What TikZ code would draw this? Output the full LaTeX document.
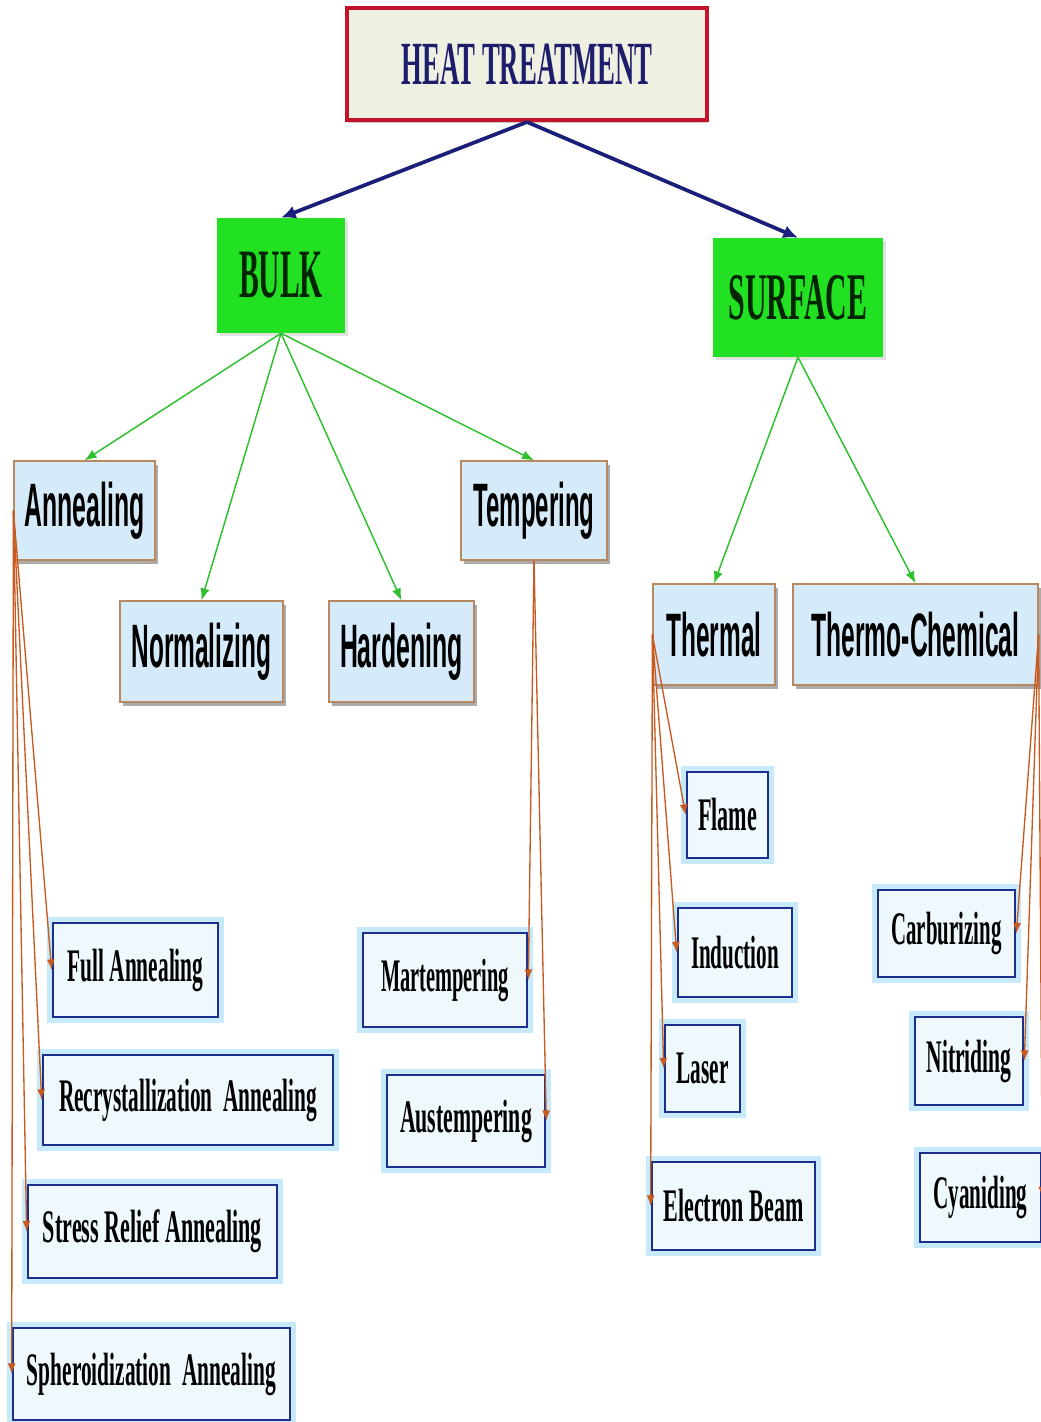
\documentclass[tikz,border=0pt]{standalone}
\usepackage{fontspec}
\usepackage{graphicx}
\usetikzlibrary{arrows.meta,shadows}
\newfontfamily\labelsans{Liberation Sans}
\newfontfamily\labelserif{Liberation Serif}
\newlength\unitpx
\setlength\unitpx{0.75pt}
% squeeze a label to a given width (in px units), keeping its height
\newcommand\squeeze[2]{\resizebox{#1\unitpx}{\height}{#2}}
\definecolor{navyline}{HTML}{1A1F7A}
\definecolor{headtext}{HTML}{1D1D6B}
\definecolor{headred}{HTML}{C4142A}
\definecolor{headfill}{HTML}{EEF0E2}
\definecolor{bulkgreen}{HTML}{22E022}
\definecolor{greenline}{HTML}{2EC02E}
\definecolor{orangeline}{HTML}{C85A20}
\definecolor{catfill}{HTML}{D5EBF9}
\definecolor{catborder}{HTML}{B88860}
\definecolor{leaffill}{HTML}{EEF8FD}
\definecolor{leafborder}{HTML}{1C2F8C}
\definecolor{leafglow}{HTML}{C6EAFA}
\begin{document}
\begin{tikzpicture}[x=0.75pt,y=-0.75pt,
  area/.style n args={4}{minimum width={(#3-#1)*0.75pt}, minimum height={(#4-#2)*0.75pt},
    at={({(#1+#3)/2},{(#2+#4)/2})}, anchor=center, inner sep=0pt},
  headbox/.style={draw=headred, line width=3pt, fill=headfill,
    drop shadow={shadow xshift=1pt, shadow yshift=-2pt, fill=black!40, opacity=0.5}},
  greenbox/.style={fill=bulkgreen,
    drop shadow={shadow xshift=2pt, shadow yshift=-2pt, fill=black!30, opacity=0.4}},
  catbox/.style={draw=catborder, line width=0.9pt, fill=catfill,
    drop shadow={shadow xshift=2pt, shadow yshift=-3pt, fill=black!55, opacity=0.6}},
  leafbox/.style={draw=leafborder, line width=2pt, fill=leaffill,
    preaction={draw=leafglow, line width=9pt}},
  catfont/.style={font=\labelsans\bfseries\fontsize{46}{50}\selectfont},
  leaffont/.style={font=\labelserif\bfseries\fontsize{35}{40}\selectfont},
  navyarrow/.style={draw=navyline, line width=2.8pt, -{Latex[length=11pt,width=10pt]}},
  greenarrow/.style={draw=greenline, line width=1.1pt, -{Latex[length=9pt,width=7pt]}},
  orangearrow/.style={draw=orangeline, line width=1pt, -{Latex[length=8pt,width=6pt]}}
]
\fill[white] (0,0) rectangle (1041,1422);
\useasboundingbox (0,0) rectangle (1041,1422);

% root
\node[headbox, area={347}{8}{707}{120}, text=headtext] (ht)
  {\labelserif\bfseries\fontsize{46}{50}\selectfont\squeeze{251}{HEAT TREATMENT}};

% two main branches
\node[greenbox, area={217}{218}{345}{333}, text=black!85!green] (bulk)
  {\labelserif\bfseries\fontsize{52}{58}\selectfont\squeeze{84}{BULK}};
\node[greenbox, area={713}{238}{883}{357}, text=black!85!green] (surf)
  {\labelserif\bfseries\fontsize{50}{54}\selectfont\squeeze{139}{SURFACE}};

% bulk processes
\node[catbox, catfont, area={14}{461}{155}{560}] (ann) {\squeeze{120}{Annealing}};
\node[catbox, catfont, area={120}{601}{283}{702}] (norm) {\squeeze{140}{Normalizing}};
\node[catbox, catfont, area={329}{601}{474}{702}] (hard) {\squeeze{123}{Hardening}};
\node[catbox, catfont, area={461}{461}{607}{560}] (tmp) {\squeeze{121}{Tempering}};

% surface processes
\node[catbox, catfont, area={653}{584}{775}{685}] (thm) {\squeeze{95}{Thermal}};
\node[catbox, catfont, area={793}{584}{1038}{685}] (tc) {\squeeze{208}{Thermo-Chemical}};

% annealing variants
\node[leafbox, leaffont, area={53}{923}{218}{1017}] (full) {\squeeze{136}{Full Annealing}};
\node[leafbox, leaffont, area={43}{1055}{333}{1145}] (rec)
  {\squeeze{258}{Recrystallization\hspace{0.5em}Annealing}};
\node[leafbox, leaffont, area={28}{1185}{277}{1278}] (sra) {\squeeze{219}{Stress Relief Annealing}};
\node[leafbox, leaffont, area={13}{1328}{290}{1420}] (sph)
  {\squeeze{249}{Spheroidization\hspace{0.5em}Annealing}};

% tempering variants
\node[leafbox, leaffont, area={363}{933}{527}{1027}] (mart) {\squeeze{128}{Martempering}};
\node[leafbox, leaffont, area={387}{1075}{545}{1167}] (aust) {\squeeze{132}{Austempering}};

% thermal methods
\node[leafbox, leaffont, area={687}{772}{768}{858}] (fl) {\squeeze{59}{Flame}};
\node[leafbox, leaffont, area={678}{908}{792}{997}] (ind) {\squeeze{88}{Induction}};
\node[leafbox, leaffont, area={665}{1025}{740}{1112}] (las) {\squeeze{52}{Laser}};
\node[leafbox, leaffont, area={652}{1162}{815}{1250}] (eb) {\squeeze{140}{Electron Beam}};

% thermo-chemical methods
\node[leafbox, leaffont, area={878}{890}{1015}{977}] (carb) {\squeeze{110}{Carburizing}};
\node[leafbox, leaffont, area={915}{1017}{1023}{1105}] (nit) {\squeeze{85}{Nitriding}};
\node[leafbox, leaffont, area={920}{1153}{1041}{1242}] (cyan) {\squeeze{94}{Cyaniding}};

% connectors
\draw[navyarrow] (ht.south) -- (bulk.north);
\draw[navyarrow] (ht.south) -- (surf.north);

\draw[greenarrow] (bulk.south) -- (ann.north);
\draw[greenarrow] (bulk.south) -- (norm.north);
\draw[greenarrow] (bulk.south) -- (hard.north);
\draw[greenarrow] (bulk.south) -- (tmp.north);
\draw[greenarrow] (surf.south) -- (thm.north);
\draw[greenarrow] (surf.south) -- (tc.north);

\draw[orangearrow] (ann.west) -- (full.west);
\draw[orangearrow] (ann.west) -- (rec.west);
\draw[orangearrow] (ann.west) -- (sra.west);
\draw[orangearrow] (ann.west) -- (sph.west);

\draw[orangearrow] (tmp.south) -- (mart.east);
\draw[orangearrow] (tmp.south) -- (aust.east);

\draw[orangearrow] (thm.west) -- (fl.west);
\draw[orangearrow] (thm.west) -- (ind.west);
\draw[orangearrow] (thm.west) -- (las.west);
\draw[orangearrow] (thm.west) -- (eb.west);

\draw[orangearrow] (tc.east) -- (carb.east);
\draw[orangearrow] (tc.east) -- (nit.east);
\draw[orangearrow] (tc.east) -- (cyan.east);
\end{tikzpicture}
\end{document}
